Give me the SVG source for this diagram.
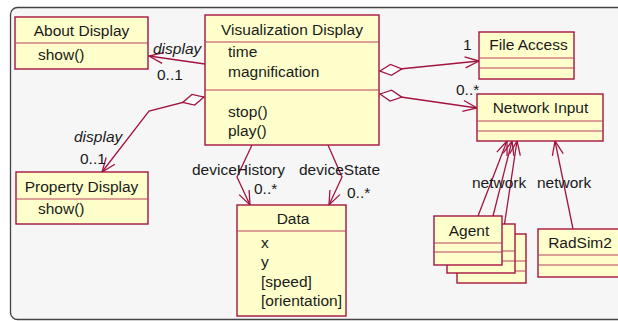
<svg xmlns="http://www.w3.org/2000/svg" width="618" height="321" viewBox="0 0 618 321">
<style>
.box{fill:#ffffcc;stroke:#a3143f;stroke-width:1.4}
.div{stroke:#b8405e;stroke-width:1.2;fill:none}
.t{font-family:"Liberation Sans",Arial,sans-serif;font-size:15.5px;fill:#1a1a1a}
.c{text-anchor:middle}
.i{font-style:italic}
.ln{fill:none;stroke:#a3143f;stroke-width:1.3}
</style>
<defs>
<marker id="arr" markerUnits="userSpaceOnUse" viewBox="-16 -7 18 14" refX="0" refY="0" markerWidth="18" markerHeight="14" orient="auto">
<path d="M-14,-5.5 L0,0 L-14,5.5" fill="none" stroke="#a3143f" stroke-width="1.3"/>
</marker>
<marker id="dia" markerUnits="userSpaceOnUse" viewBox="-1 -7 25 14" refX="0" refY="0" markerWidth="25" markerHeight="14" orient="auto">
<path d="M0,0 L11,-5.5 L22,0 L11,5.5 Z" fill="#ffffff" stroke="#a3143f" stroke-width="1.3"/>
</marker>
</defs>
<rect x="0" y="0" width="618" height="321" fill="#ffffff"/>
<rect x="10.5" y="7.5" width="640" height="312" rx="7" fill="#f6f6f6" stroke="#444" stroke-width="1.3"/>

<g id="connectors">
<line class="ln" x1="205" y1="64" x2="149" y2="56" marker-end="url(#arr)"/>
<polyline class="ln" points="204,97 149,111 102,172" marker-start="url(#dia)" marker-end="url(#arr)"/>
<line class="ln" x1="380" y1="71" x2="479" y2="61" marker-start="url(#dia)" marker-end="url(#arr)"/>
<line class="ln" x1="380" y1="94" x2="477" y2="108" marker-start="url(#dia)" marker-end="url(#arr)"/>
<polyline class="ln" points="252,145 237,177 250,205" marker-end="url(#arr)"/>
<polyline class="ln" points="328,145 342,177 329,205" marker-end="url(#arr)"/>
<line class="ln" x1="478" y1="216" x2="507" y2="141" marker-end="url(#arr)"/>
<line class="ln" x1="491" y1="224" x2="512" y2="141" marker-end="url(#arr)"/>
<line class="ln" x1="503" y1="234" x2="517" y2="141" marker-end="url(#arr)"/>
<line class="ln" x1="573" y1="229" x2="555" y2="141" marker-end="url(#arr)"/>
<text class="t i" x="153" y="54">display</text>
<text class="t" x="157" y="80">0..1</text>
<text class="t i" x="74" y="142">display</text>
<text class="t" x="80" y="164">0..1</text>
<text class="t" x="463" y="50">1</text>
<text class="t" x="456" y="95">0..*</text>
<text class="t" x="192" y="175">deviceHistory</text>
<text class="t" x="254" y="194">0..*</text>
<text class="t" x="299" y="175">deviceState</text>
<text class="t" x="347" y="198">0..*</text>
<text class="t" x="472" y="188">network</text>
<text class="t" x="537" y="188">network</text>
</g>

<g id="about-display">
<rect class="box" x="15" y="17" width="133" height="52"/>
<line class="div" x1="15" y1="43" x2="148" y2="43"/>
<text class="t c" x="81.5" y="36">About Display</text>
<text class="t" x="38" y="60">show()</text>
</g>

<g id="visualization-display">
<rect class="box" x="205" y="15" width="174" height="130"/>
<line class="div" x1="205" y1="42" x2="379" y2="42"/>
<line class="div" x1="205" y1="90" x2="379" y2="90"/>
<text class="t c" x="292" y="35">Visualization Display</text>
<text class="t" x="228" y="57">time</text>
<text class="t" x="228" y="77">magnification</text>
<text class="t" x="228" y="117">stop()</text>
<text class="t" x="228" y="136">play()</text>
</g>

<g id="file-access">
<rect class="box" x="479" y="32" width="95" height="47"/>
<line class="div" x1="479" y1="58" x2="574" y2="58"/>
<line class="div" x1="479" y1="68" x2="574" y2="68"/>
<text class="t c" x="528.5" y="50">File Access</text>
</g>

<g id="network-input">
<rect class="box" x="477" y="94" width="126" height="47"/>
<line class="div" x1="477" y1="121" x2="603" y2="121"/>
<line class="div" x1="477" y1="131" x2="603" y2="131"/>
<text class="t c" x="540.5" y="113">Network Input</text>
</g>

<g id="property-display">
<rect class="box" x="16" y="172" width="132" height="52"/>
<line class="div" x1="16" y1="199" x2="148" y2="199"/>
<text class="t c" x="81.5" y="192">Property Display</text>
<text class="t" x="38" y="214">show()</text>
</g>

<g id="data">
<rect class="box" x="237" y="205" width="109" height="111"/>
<line class="div" x1="237" y1="231" x2="346" y2="231"/>
<text class="t c" x="293" y="224">Data</text>
<text class="t" x="261" y="248">x</text>
<text class="t" x="261" y="267">y</text>
<text class="t" x="261" y="287">[speed]</text>
<text class="t" x="261" y="306">[orientation]</text>
</g>

<g id="agent">
<rect class="box" x="457" y="234" width="69" height="49"/>
<line class="div" x1="457" y1="261" x2="526" y2="261"/>
<line class="div" x1="457" y1="271" x2="526" y2="271"/>
<rect class="box" x="447" y="224" width="68" height="49"/>
<line class="div" x1="447" y1="251" x2="515" y2="251"/>
<line class="div" x1="447" y1="261" x2="515" y2="261"/>
<rect class="box" x="434" y="216" width="68" height="49"/>
<line class="div" x1="434" y1="243" x2="502" y2="243"/>
<line class="div" x1="434" y1="252" x2="502" y2="252"/>
<text class="t c" x="469" y="236">Agent</text>
</g>

<g id="radsim2">
<rect class="box" x="538" y="229" width="90" height="48"/>
<line class="div" x1="538" y1="255" x2="628" y2="255"/>
<line class="div" x1="538" y1="265" x2="628" y2="265"/>
<text class="t c" x="580" y="248">RadSim2</text>
</g>
</svg>
